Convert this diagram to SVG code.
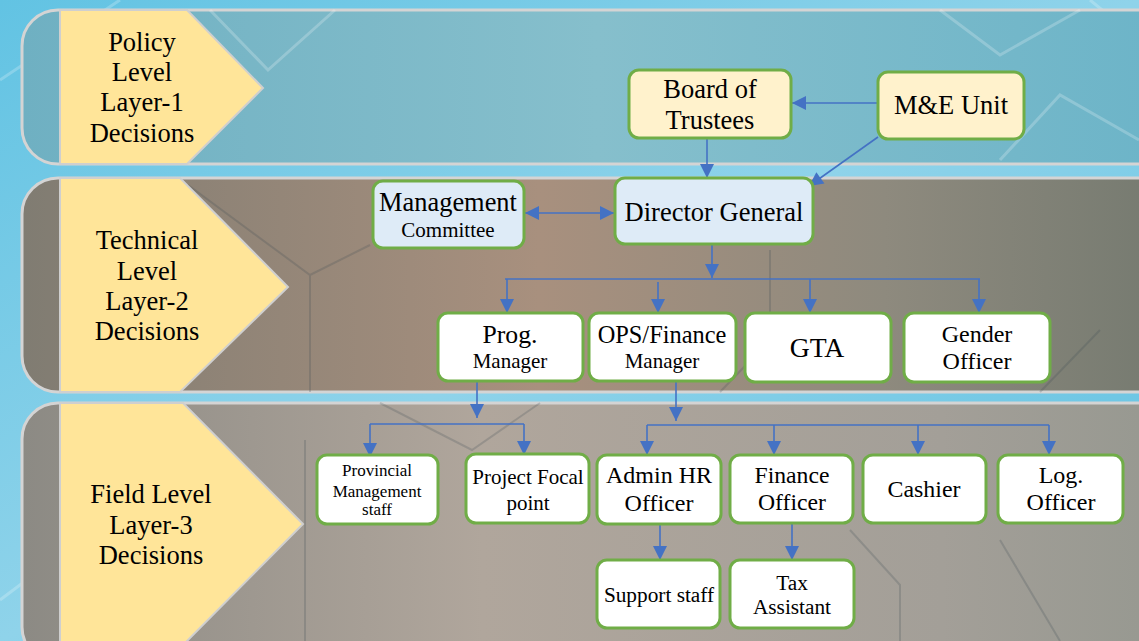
<svg xmlns="http://www.w3.org/2000/svg" width="1139" height="641" viewBox="0 0 1139 641">
<defs>
<linearGradient id="bg" x1="0" y1="0" x2="1" y2="1">
<stop offset="0" stop-color="#62c3e3"/>
<stop offset="0.5" stop-color="#8fd3ea"/>
<stop offset="1" stop-color="#5bbfe0"/>
</linearGradient>
<linearGradient id="b1" x1="0" y1="0" x2="1" y2="0">
<stop offset="0" stop-color="#6fb0c2"/>
<stop offset="0.5" stop-color="#86bfcc"/>
<stop offset="1" stop-color="#6cb4c8"/>
</linearGradient>
<linearGradient id="b2" x1="0" y1="0" x2="1" y2="0">
<stop offset="0" stop-color="#807c72"/>
<stop offset="0.45" stop-color="#a8907e"/>
<stop offset="0.75" stop-color="#8e8a7e"/>
<stop offset="1" stop-color="#757a70"/>
</linearGradient>
<linearGradient id="b3" x1="0" y1="0" x2="1" y2="0">
<stop offset="0" stop-color="#8c8a84"/>
<stop offset="0.4" stop-color="#b0a69c"/>
<stop offset="0.8" stop-color="#a39f98"/>
<stop offset="1" stop-color="#969890"/>
</linearGradient>
<marker id="ah" markerUnits="userSpaceOnUse" markerWidth="16" markerHeight="16" viewBox="0 0 16 16" refX="15" refY="8" orient="auto-start-reverse">
<path d="M1,1 L15,8 L1,15 Z" fill="#4472c4"/>
</marker>
<style>
.band{stroke:#d4d4d4;stroke-width:3}
.chev{fill:#ffe599;stroke:#cfcfcf;stroke-width:2}
.lbl{font-family:'Liberation Serif','DejaVu Serif',serif;font-size:26.5px;fill:#000;text-anchor:middle}
.box{stroke:#70ad47;stroke-width:3}
.y{fill:#fff2cc}
.b{fill:#deebf7}
.w{fill:#ffffff}
.t{font-family:'Liberation Serif','DejaVu Serif',serif;fill:#000;text-anchor:middle}
.c{stroke:#4472c4;stroke-width:1.6;fill:none}
.bgl{stroke:#ffffff;stroke-opacity:0.22;stroke-width:3;fill:none}
.dkl{stroke:#3c4a50;stroke-opacity:0.22;stroke-width:2;fill:none}
</style>
</defs>
<rect x="0" y="0" width="1139" height="641" fill="url(#bg)"/>
<g id="background-lines">
<path class="bgl" d="M0,80 L120,0 M0,600 L80,540 M1090,0 L1139,40 M1060,641 L1139,580"/>
</g>
<g id="band-1">
<rect class="band" x="22" y="10" width="1150" height="154" rx="36" fill="url(#b1)"/>
<path class="bgl" d="M210,10 L268,70 L335,10 M940,10 L1000,55 L1080,10 M1000,160 L1060,95 L1139,140"/>
<polygon class="chev" points="60,10 187,10 263,88 187,164 60,164"/>
<text class="lbl"><tspan x="142" y="51">Policy</tspan><tspan x="142" y="81">Level</tspan><tspan x="142" y="111">Layer-1</tspan><tspan x="142" y="142">Decisions</tspan></text>
</g>
<g id="band-2">
<rect class="band" x="22" y="178" width="1150" height="214" rx="36" fill="url(#b2)"/>
<path class="dkl" d="M188,185 L310,275 L370,245 M310,275 L310,392 M720,392 L770,340 L770,250 M1040,392 L1100,330"/>
<polygon class="chev" points="60,178 180,178 288,287 180,392 60,392"/>
<text class="lbl"><tspan x="147" y="249">Technical</tspan><tspan x="147" y="280">Level</tspan><tspan x="147" y="310">Layer-2</tspan><tspan x="147" y="340">Decisions</tspan></text>
</g>
<g id="band-3">
<rect class="band" x="22" y="403" width="1150" height="260" rx="36" fill="url(#b3)"/>
<path class="dkl" d="M380,403 L472,450 L540,403 M305,440 L305,641 M850,530 L900,585 L900,641 M1000,540 L1060,641"/>
<polygon class="chev" points="60,403 183,403 303,524 183,645 60,645"/>
<text class="lbl"><tspan x="151" y="503">Field Level</tspan><tspan x="151" y="534">Layer-3</tspan><tspan x="151" y="564">Decisions</tspan></text>
</g>
<g id="connectors">
<line class="c" x1="878" y1="103" x2="792" y2="103" marker-end="url(#ah)"/>
<line class="c" x1="878" y1="137" x2="809" y2="186" marker-end="url(#ah)"/>
<line class="c" x1="707" y1="138" x2="707" y2="178" marker-end="url(#ah)"/>
<line class="c" x1="525" y1="213" x2="614" y2="213" marker-start="url(#ah)" marker-end="url(#ah)"/>
<line class="c" x1="712" y1="244" x2="712" y2="278" marker-end="url(#ah)"/>
<line class="c" x1="505" y1="279" x2="980" y2="279"/>
<line class="c" x1="507" y1="279" x2="507" y2="313" marker-end="url(#ah)"/>
<line class="c" x1="658" y1="282" x2="658" y2="313" marker-end="url(#ah)"/>
<line class="c" x1="810" y1="279" x2="810" y2="313" marker-end="url(#ah)"/>
<line class="c" x1="979" y1="279" x2="979" y2="313" marker-end="url(#ah)"/>
<line class="c" x1="477" y1="381" x2="477" y2="418" marker-end="url(#ah)"/>
<line class="c" x1="370" y1="424" x2="524" y2="424"/>
<line class="c" x1="370" y1="424" x2="370" y2="457" marker-end="url(#ah)"/>
<line class="c" x1="524" y1="424" x2="524" y2="455" marker-end="url(#ah)"/>
<line class="c" x1="676" y1="381" x2="676" y2="421" marker-end="url(#ah)"/>
<line class="c" x1="647" y1="425" x2="1049" y2="425"/>
<line class="c" x1="647" y1="425" x2="647" y2="455" marker-end="url(#ah)"/>
<line class="c" x1="774" y1="425" x2="774" y2="455" marker-end="url(#ah)"/>
<line class="c" x1="918" y1="425" x2="918" y2="455" marker-end="url(#ah)"/>
<line class="c" x1="1049" y1="425" x2="1049" y2="455" marker-end="url(#ah)"/>
<line class="c" x1="660" y1="524" x2="660" y2="560" marker-end="url(#ah)"/>
<line class="c" x1="792" y1="523" x2="792" y2="560" marker-end="url(#ah)"/>
</g>
<g id="board-of-trustees">
<rect class="box y" x="629" y="70" width="162" height="68" rx="10"/>
<text class="t" font-size="26.5"><tspan x="710" y="98">Board of</tspan><tspan x="710" y="129">Trustees</tspan></text>
</g>
<g id="me-unit">
<rect class="box y" x="878" y="72" width="146" height="67" rx="10"/>
<text class="t" font-size="26.5" x="951" y="114">M&amp;E Unit</text>
</g>
<g id="director-general">
<rect class="box b" x="615" y="178" width="198" height="66" rx="10"/>
<text class="t" font-size="26.5" x="714" y="221">Director General</text>
</g>
<g id="management-committee">
<rect class="box b" x="373" y="181" width="151" height="67" rx="10"/>
<text class="t"><tspan x="448" y="211" font-size="26.4">Management</tspan><tspan x="448" y="237" font-size="21">Committee</tspan></text>
</g>
<g id="prog-manager">
<rect class="box w" x="438" y="313" width="145" height="68" rx="10"/>
<text class="t"><tspan x="510" y="343" font-size="25.7">Prog.</tspan><tspan x="510" y="368" font-size="21">Manager</tspan></text>
</g>
<g id="ops-finance-manager">
<rect class="box w" x="589" y="313" width="147" height="68" rx="10"/>
<text class="t"><tspan x="662" y="343" font-size="24.4">OPS/Finance</tspan><tspan x="662" y="368" font-size="21">Manager</tspan></text>
</g>
<g id="gta">
<rect class="box w" x="745" y="313" width="146" height="69" rx="10"/>
<text class="t" font-size="27.7" x="817" y="357">GTA</text>
</g>
<g id="gender-officer">
<rect class="box w" x="904" y="313" width="146" height="69" rx="10"/>
<text class="t" font-size="24"><tspan x="977" y="342">Gender</tspan><tspan x="977" y="369">Officer</tspan></text>
</g>
<g id="provincial-management-staff">
<rect class="box w" x="317" y="455" width="121" height="69" rx="10"/>
<text class="t" font-size="17"><tspan x="377" y="476">Provincial</tspan><tspan x="377" y="497">Management</tspan><tspan x="377" y="515">staff</tspan></text>
</g>
<g id="project-focal-point">
<rect class="box w" x="466" y="454" width="123" height="69" rx="10"/>
<text class="t" font-size="21"><tspan x="528" y="484">Project Focal</tspan><tspan x="528" y="510">point</tspan></text>
</g>
<g id="admin-hr-officer">
<rect class="box w" x="597" y="455" width="124" height="69" rx="10"/>
<text class="t" font-size="24"><tspan x="659" y="483">Admin HR</tspan><tspan x="659" y="511">Officer</tspan></text>
</g>
<g id="finance-officer">
<rect class="box w" x="730" y="455" width="123" height="68" rx="10"/>
<text class="t" font-size="23.7"><tspan x="792" y="483">Finance</tspan><tspan x="792" y="510">Officer</tspan></text>
</g>
<g id="cashier">
<rect class="box w" x="863" y="455" width="123" height="68" rx="10"/>
<text class="t" font-size="23.9" x="924" y="497">Cashier</text>
</g>
<g id="log-officer">
<rect class="box w" x="998" y="455" width="125" height="68" rx="10"/>
<text class="t" font-size="24"><tspan x="1061" y="483">Log.</tspan><tspan x="1061" y="510">Officer</tspan></text>
</g>
<g id="support-staff">
<rect class="box w" x="597" y="560" width="123" height="68" rx="10"/>
<text class="t" font-size="21.3" x="659" y="602">Support staff</text>
</g>
<g id="tax-assistant">
<rect class="box w" x="730" y="560" width="124" height="68" rx="10"/>
<text class="t" font-size="21.3"><tspan x="792" y="590">Tax</tspan><tspan x="792" y="614">Assistant</tspan></text>
</g>
</svg>
